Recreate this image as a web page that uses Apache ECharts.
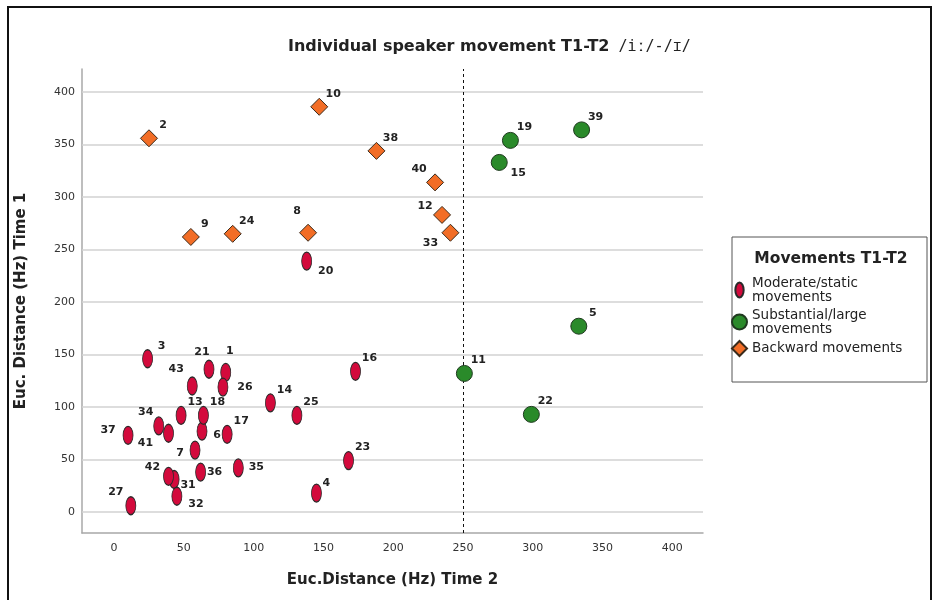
<!DOCTYPE html>
<html><head><meta charset="utf-8">
<script src="https://cdn.jsdelivr.net/npm/echarts@6/dist/echarts.min.js"></script>
<style>html,body{margin:0;padding:0;background:#fff}#c{width:935px;height:600px}</style>
</head><body><div id="c"></div>
<script>
// ---- data (x = Euc. distance Time 2, y = Euc. distance Time 1) ----
const moderateIds   = [1, 3, 4, 6, 7, 13, 14, 16, 17, 18, 20, 21, 23, 25, 26, 27, 31, 32, 34, 35, 36, 37, 41, 42, 43];
const moderateTime2 = [80, 24, 145, 63, 58, 48, 112, 173, 81, 64, 138, 68, 168, 131, 78, 12, 43, 45, 32, 89, 62, 10, 39, 39, 56];
const moderateTime1 = [133, 146, 18, 77, 59, 92, 104, 134, 74, 92, 239, 136, 49, 92, 119, 6, 31, 15, 82, 42, 38, 73, 75, 34, 120];

const largeIds   = [5, 11, 15, 19, 22, 39];
const largeTime2 = [333, 251, 276, 284, 299, 335];
const largeTime1 = [177, 132, 333, 354, 93, 364];

const backwardIds   = [2, 8, 9, 10, 12, 24, 33, 38, 40];
const backwardTime2 = [25, 139, 55, 147, 235, 85, 241, 188, 230];
const backwardTime1 = [356, 266, 262, 386, 283, 265, 266, 344, 314];

const groupNames = ['Moderate/static\nmovements', 'Substantial/large\nmovements', 'Backward movements'];
const yGridTicks = [0, 50, 100, 150, 200, 250, 300, 350, 400];
const thresholdTime2 = 250;

// ---- styling (label placement, symbols) ----
const defaultLabelOffset = [14, -13];
const labelOffsets = {
  1: [4, -21], 4: [10, -10], 6: [15, 4], 7: [-15, 3], 20: [19, 10], 21: [-7, -17],
  26: [22, 0], 27: [-15, -14], 31: [14, 6], 32: [19, 8], 34: [-13, -14], 35: [18, -1],
  36: [14, 0], 37: [-20, -5], 41: [-23, 10], 42: [-16, -9], 43: [-16, -17],
  8: [-11, -22], 12: [-17, -9], 33: [-20, 10], 40: [-16, -13], 15: [19, 11]
};
const ellipsePath = 'path://M5,0 C7.76,0 10,4.03 10,9 C10,13.97 7.76,18 5,18 C2.24,18 0,13.97 0,9 C0,4.03 2.24,0 5,0 Z';
const FONT = 'DejaVu Sans';

function build(ids, xs, ys) {
  return ids.map((id, i) => ({
    value: [xs[i], ys[i]],
    id: id,
    label: { offset: labelOffsets[id] || defaultLabelOffset }
  }));
}
const pointLabel = {
  show: true, position: 'inside', formatter: p => String(p.data.id),
  color: '#222', fontSize: 11, fontWeight: 'bold', fontFamily: FONT
};

const chart = echarts.init(document.getElementById('c'), null, { renderer: 'canvas' });
chart.setOption({
  animation: false,
  backgroundColor: '#fff',
  title: {
    left: 288, top: 39, padding: 0,
    text: '{b|Individual speaker movement T1-T2}{n|/iː/-/ɪ/}',
    textStyle: {
      rich: {
        b: { fontFamily: FONT, fontSize: 16, fontWeight: 'bold', color: '#222' },
        n: { fontFamily: 'DejaVu Sans Mono', fontSize: 15, fontWeight: 'normal', color: '#222', padding: [0, 0, 0, 9] }
      }
    }
  },
  graphic: [
    { type: 'rect', shape: { x: 8, y: 7, width: 923, height: 600 }, style: { fill: 'none', stroke: '#111', lineWidth: 2 }, silent: true },
    { type: 'rect', shape: { x: 732, y: 237, width: 195, height: 145 }, style: { fill: '#fff', stroke: '#555', lineWidth: 1 }, z: -1, silent: true },
    { type: 'text', x: 831, y: 259, style: { text: 'Movements T1-T2', align: 'center', verticalAlign: 'middle', fontFamily: FONT, fontSize: 15.5, fontWeight: 'bold', fill: '#222' }, silent: true }
  ],
  legend: {
    orient: 'vertical', left: 731, top: 276, padding: 0,
    itemWidth: 15, itemHeight: 15, itemGap: 4,
    textStyle: { fontFamily: FONT, fontSize: 13.5, lineHeight: 14, color: '#222' },
    data: [
      { name: groupNames[0], icon: ellipsePath },
      { name: groupNames[1], icon: 'circle' },
      { name: groupNames[2], icon: 'diamond' }
    ],
    selectedMode: false
  },
  grid: { left: 82, top: 69, right: 232, bottom: 67, containLabel: false },
  xAxis: {
    type: 'value', min: -23, max: 422, splitNumber: 9,
    name: 'Euc.Distance (Hz) Time 2', nameLocation: 'middle', nameGap: 40,
    nameTextStyle: { fontFamily: FONT, fontSize: 15, fontWeight: 'bold', color: '#222' },
    axisLine: { show: true, onZero: false, lineStyle: { color: '#a8a8a8', width: 1.5 } },
    axisTick: { show: false },
    splitLine: { show: false },
    axisLabel: { showMinLabel: false, showMaxLabel: false, margin: 10, color: '#333', fontSize: 11, fontFamily: FONT,
      formatter: v => (v % 50 === 0 ? String(v) : '') }
  },
  yAxis: {
    type: 'value', min: -20, max: 422, splitNumber: 9,
    name: 'Euc. Distance (Hz) Time 1', nameLocation: 'middle', nameGap: 53,
    nameTextStyle: { fontFamily: FONT, fontSize: 15, fontWeight: 'bold', color: '#222' },
    axisLine: { show: true, onZero: false, lineStyle: { color: '#a8a8a8', width: 1.5 } },
    axisTick: { show: false },
    splitLine: { show: false },
    axisLabel: { showMinLabel: false, showMaxLabel: false, margin: 7, color: '#333', fontSize: 11, fontFamily: FONT,
      formatter: v => (v % 50 === 0 ? String(v) : '') }
  },
  series: [
    {
      type: 'scatter', data: [], z: 1, silent: true,
      markLine: {
        silent: true, symbol: ['none', 'none'], label: { show: false }, animation: false,
        emphasis: { disabled: true },
        lineStyle: { color: '#d2d2d2', type: 'solid', width: 1.5 },
        data: yGridTicks.map(v => ({ yAxis: v }))
      }
    },
    {
      type: 'scatter', data: [], z: 2, silent: true,
      markLine: {
        silent: true, symbol: ['none', 'none'], label: { show: false }, animation: false,
        emphasis: { disabled: true },
        lineStyle: { color: '#111', type: [3, 3], width: 1 },
        data: [[{ coord: [thresholdTime2, -20] }, { coord: [thresholdTime2, 422] }]]
      }
    },
    {
      name: groupNames[0], type: 'scatter', z: 5,
      symbol: ellipsePath, symbolSize: [10, 18], symbolKeepAspect: false,
      itemStyle: { color: '#d30a3c', borderColor: '#2a2a2a', borderWidth: 1, opacity: 1 },
      label: pointLabel, emphasis: { disabled: true },
      data: build(moderateIds, moderateTime2, moderateTime1)
    },
    {
      name: groupNames[1], type: 'scatter', z: 5,
      symbol: 'circle', symbolSize: 16,
      itemStyle: { color: '#2a8a2a', borderColor: '#1f3a1f', borderWidth: 1, opacity: 1 },
      label: pointLabel, emphasis: { disabled: true },
      data: build(largeIds, largeTime2, largeTime1)
    },
    {
      name: groupNames[2], type: 'scatter', z: 5,
      symbol: 'diamond', symbolSize: [17, 17],
      itemStyle: { color: '#f26d26', borderColor: '#3a2a1a', borderWidth: 1, opacity: 1 },
      label: pointLabel, emphasis: { disabled: true },
      data: build(backwardIds, backwardTime2, backwardTime1)
    }
  ]
});
</script>
</body></html>
